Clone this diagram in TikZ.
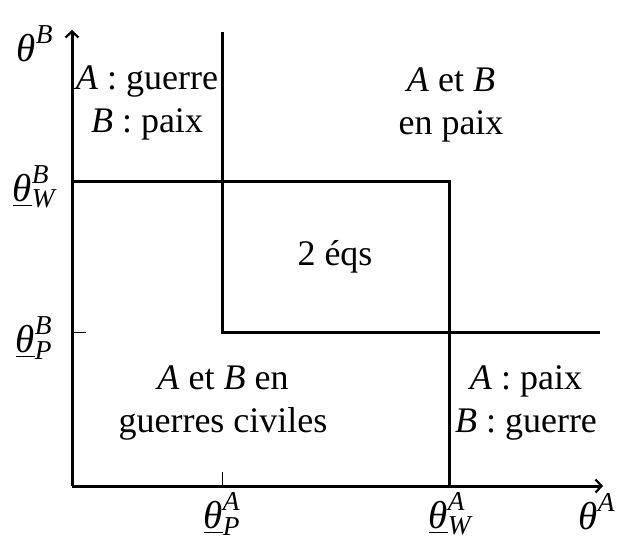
\documentclass[tikz,border=0pt]{standalone}
\usepackage{amsmath}
\usepackage{fontspec}
\setmainfont{Liberation Serif}
\usetikzlibrary{arrows.meta}
\newcommand{\thv}[2]{$\underline{\text{\itshape θ}}^{\text{\itshape #1}}_{\text{\itshape #2}}$}
\begin{document}
\begin{tikzpicture}[x=1pt,y=-1pt,
  thick line/.style={line width=3pt},
  axis/.style={line width=3pt,-{Straight Barb[length=6pt,width=13pt,line width=2.2pt]}},
  tick/.style={line width=0.9pt},
  lbl/.style={font=\fontsize{36}{43}\selectfont,align=center,inner sep=0pt},
  axlbl/.style={font=\fontsize{39}{44}\selectfont,inner sep=0pt}]
\useasboundingbox (0,0) rectangle (619,541);
\coordinate (O) at (72,486);
\coordinate (ytop) at (72,30);
\coordinate (xend) at (603,486);
\coordinate (PA) at (222,486);
\coordinate (WA) at (449,486);
\coordinate (PB) at (72,332);
\coordinate (WB) at (72,181);
\coordinate (vtop) at (222,32);
\coordinate (corner) at (222,332);
\coordinate (hend) at (600,332);
\coordinate (rc) at (449,181);
% ticks
\draw[tick] (PA) -- ++(0,-14);
\draw[tick] (PB) -- ++(14,0);
% axes
\draw[axis] (O) -- (xend);
\draw[axis] (O) -- (ytop);
% boundaries
\draw[thick line] (vtop) -- (corner) -- (hend);
\draw[thick line] (WB) -- (rc) -- (WA);
% axis labels
\node[axlbl] (tB) at (35,44) {$\text{\itshape θ}^{\text{\itshape B}}$};
\node[axlbl] (tA) at (597,512) {$\text{\itshape θ}^{\text{\itshape A}}$};
\node[axlbl] (tWB) at (34,187) {\thv{B}{W}};
\node[axlbl] (tPB) at (34,338) {\thv{B}{P}};
\node[axlbl] (tPA) at (222,514) {\thv{A}{P}};
\node[axlbl] (tWA) at (450,514) {\thv{A}{W}};
% region labels
\node[lbl] (r1) at (147,103) {\textit{A} : guerre\\\textit{B} : paix};
\node[lbl] (r2) at (451,105) {\textit{A} et \textit{B}\\en paix};
\node[lbl] (r3) at (335,257) {2 éqs};
\node[lbl] (r4) at (223,403) {\textit{A} et \textit{B} en\\guerres civiles};
\node[lbl] (r5) at (526,403) {\textit{A} : paix\\\textit{B} : guerre};
\end{tikzpicture}
\end{document}
